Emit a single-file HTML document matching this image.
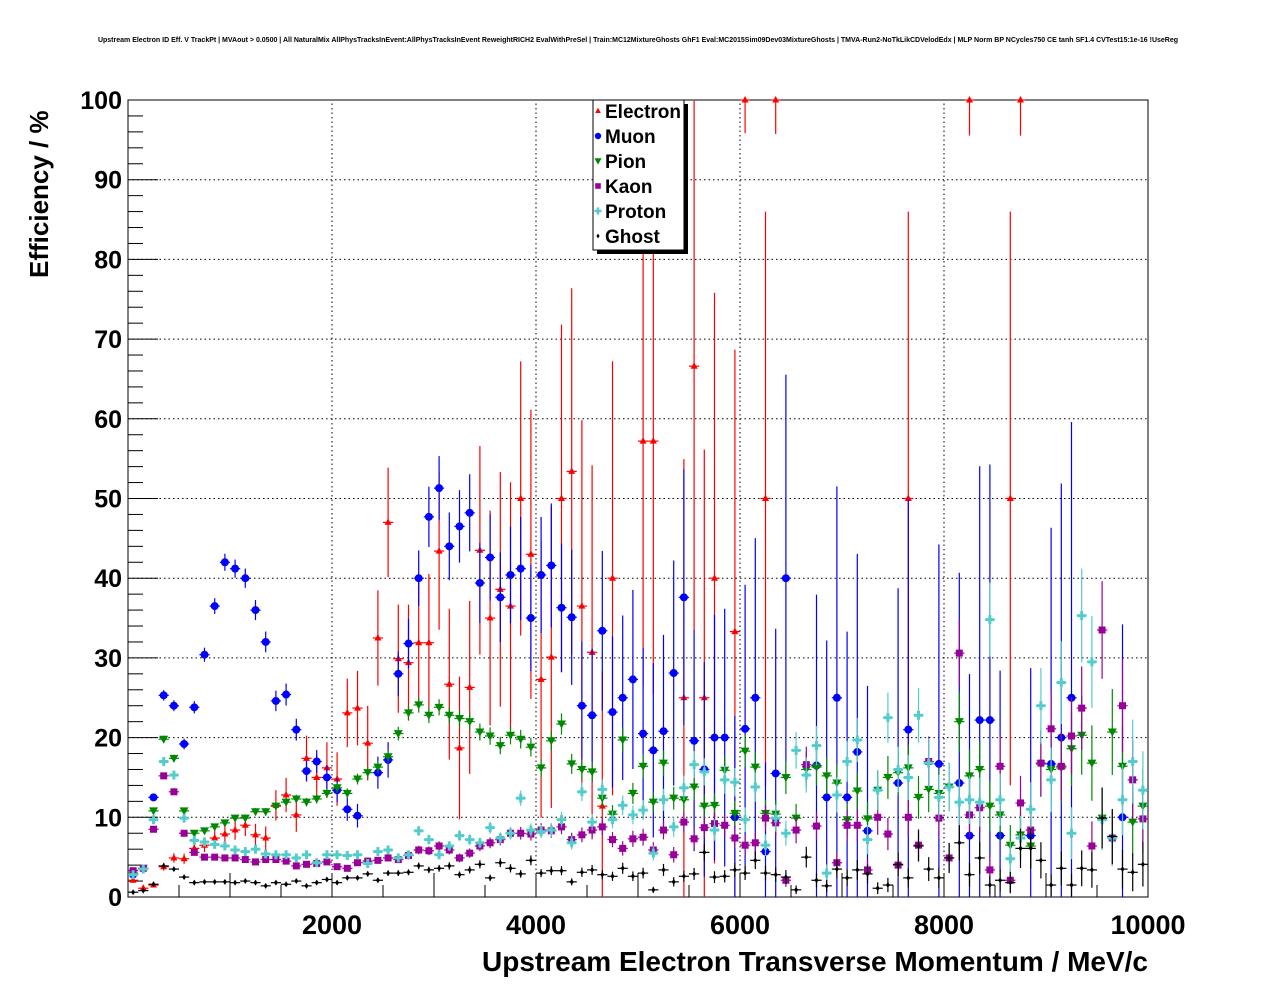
<!DOCTYPE html>
<html><head><meta charset="utf-8"><style>
body{margin:0;background:#fff;}
svg{display:block;font-family:"Liberation Sans",sans-serif;}
</style></head><body>
<svg id="c" width="1276" height="996">
<rect width="1276" height="996" fill="#fff"/>
<text x="638" y="42" font-size="7" font-weight="bold" text-anchor="middle">Upstream Electron ID Eff. V TrackPt | MVAout &gt; 0.0500 | All NaturalMix AllPhysTracksInEvent:AllPhysTracksInEvent ReweightRICH2 EvalWithPreSel | Train:MC12MixtureGhosts GhF1 Eval:MC2015Sim09Dev03MixtureGhosts | TMVA-Run2-NoTkLikCDVelodEdx | MLP Norm BP NCycles750 CE tanh SF1.4 CVTest15:1e-16 !UseReg</text>
<text x="1148" y="971" font-size="28" font-weight="bold" text-anchor="end" textLength="666" lengthAdjust="spacingAndGlyphs">Upstream Electron Transverse Momentum / MeV/c</text>
<text transform="translate(48,278) rotate(-90)" font-size="26" font-weight="bold">Efficiency / %</text>
<g id="grid"></g><g id="axes"></g><g id="marks"></g><g id="legend"></g>
</svg>
<script>
const xTicks=[2000,4000,6000,8000,10000];
const yTicks=[0,10,20,30,40,50,60,70,80,90,100];
const N=null;
const electron=[2.1,1.1,1.5,3.8,4.9,4.8,6.1,6.5,7.4,7.9,8.4,9,7.8,7.4,11.5,12.8,10.3,17.4,15,16.2,14.8,23.1,23.7,19.3,32.5,47,29.9,29.4,31.9,31.9,43.4,26.7,18.7,26.3,43.5,35,38.6,36.5,50,43,27.3,30.1,50,53.4,36.5,30.7,11.4,40,N,N,57.2,57.2,N,N,25,66.6,25,40,N,33.3,100,N,50,100,N,N,N,N,N,N,N,N,N,N,N,N,50,N,N,N,N,N,100,N,N,N,50,100,N,N,N,N,N,N,N,N,N,N,N,N];
const muon=[2.8,N,12.5,25.3,24,19.2,23.8,30.4,36.5,42,41.2,40,36,32,24.6,25.4,21,15.8,17,15,13.4,11,10.2,N,15.6,17.2,28,31.8,40,47.7,51.3,44,46.5,48.2,39.4,42.6,37.6,40.4,41.2,35,40.4,41.6,36.3,35.1,24,22.8,33.4,23.2,25,27.3,20.5,18.4,20.8,28.1,37.6,19.6,16,20,20,10,21.1,25,5.7,15.5,40,N,N,16.5,12.5,25,12.5,18.2,8.3,N,N,14.3,21,N,N,16.7,N,14.3,7.7,22.2,22.2,7.7,N,N,7.7,N,16.7,20,25,N,N,N,N,10,N,N];
const pion=[3,3.6,10.8,19.8,17.4,10.8,8,8.3,8.8,9.3,9.9,9.9,10.7,10.7,11.4,11.9,12.3,11.9,12.3,13,13.7,13,14.8,15.6,16.3,17.6,20.5,23.1,24.1,22.8,23.8,22.8,22.4,22,20.7,20.2,19,20.3,19.8,18.8,16.2,19.6,21.7,16.7,16,15.7,12.4,10.4,19.7,13,16.4,11.9,16.8,12.4,12.2,13.8,11.4,11.5,15.9,10.5,18.3,16.3,10.5,10.4,15,9.9,16,16.3,15.2,14.3,9.7,13.3,9.8,13.4,15,15.6,16.2,12.5,13.5,13,13.8,22,15.2,16,11.4,10.3,6.5,7.8,6.4,16.7,16,16.2,18.6,20.3,16.8,9.9,20.7,16.4,9.4,11.4];
const kaon=[3.3,3.6,8.5,15.2,13.2,8,5.6,5,5,4.9,4.9,4.7,4.4,4.7,4.7,4.5,3.9,4.1,4.2,4.4,3.8,3.6,4.3,4.5,4.6,4.9,4.7,5.2,5.9,5.8,6.4,5.9,4.9,5.5,6.4,6.8,7.2,8,8,7.9,8.4,8.3,8.8,7.2,7.8,8.4,8.8,7.2,6.1,7.3,7.5,5.9,8.4,5.3,9.4,7.3,8.7,9.2,9,7.4,6.5,6.8,9.9,9.3,2.1,8.4,16.6,8.9,N,4.3,9,9,3.4,10,7.9,4,10,6.5,17,9.9,4.9,30.6,10.3,11.2,3.4,16.4,2.1,11.8,8.4,16.8,21.1,16.4,20.2,23.7,6.4,33.5,7.4,24,14.7,9.8];
const proton=[2.8,3.5,9.7,17,15.3,9.9,7.1,6.9,6.6,6.4,5.9,5.7,6,5.4,5.3,5.3,4.9,5.3,4.3,5.3,5.3,5.2,5.3,4.2,5.7,5.9,4.9,5.3,8.3,7.2,5.3,6.4,7.7,7.2,6.8,8.7,7.4,8,12.4,8.4,8.2,8.4,9.7,6.8,13.2,9.4,13.5,9.7,11.5,10.3,10.9,5.5,12.2,8.8,13.7,16.6,15.7,8.4,14.7,14.4,9.7,13.8,6.5,9.9,8,18.4,15.3,19,3,12.8,17,19.7,7.2,13.4,22.5,16,15,22.8,16.8,12.5,13.8,11.9,12.2,11.9,34.8,12.2,4.8,7.4,11,24,14.7,26.9,8,35.3,29.5,9.7,7.4,12.2,17,13.4];
const ghost=[0.6,0.8,1.6,3.9,3.5,2.5,1.8,1.9,1.9,1.9,1.8,2,1.8,1.4,1.8,1.6,2,1.4,1.8,2.2,1.8,2.4,2.4,2.9,2.1,3,3,3.1,3.9,3.4,3.6,3.9,2.8,3.4,4.1,2.4,4.3,3.6,2.9,4.6,3,3.3,3.3,1.9,3.1,3.4,2.8,2.6,3.6,2.6,3,0.9,3.4,1.9,2.6,2.9,5.6,2.5,2.6,3.4,3,4.6,3,2.8,2.5,0.9,5,2.1,1.4,3.5,2.4,3.4,2.9,1.1,1.5,4.1,2.4,6.4,3.5,2.4,4.9,6.8,2.8,4.9,1.5,2.1,1.8,6.1,6.1,4.6,1.5,3.6,1.5,3.6,3.4,9.9,7.6,3.5,3.1,4.1];
const binWidth=100;
const X0=128,X1=1148,Y0=897,Y1=100;
const sx=v=>X0+(v/10000)*(X1-X0);
const sy=v=>Y0-(v/100)*(Y0-Y1);
const NS="http://www.w3.org/2000/svg";
function mk(tag,attrs,parent){const e=document.createElementNS(NS,tag);for(const k in attrs)e.setAttribute(k,attrs[k]);parent.appendChild(e);return e;}
const grid=document.getElementById('grid'),axes=document.getElementById('axes'),marks=document.getElementById('marks'),leg=document.getElementById('legend');
yTicks.forEach(t=>{if(t>0&&t<100){const l=mk('line',{x1:X0,x2:X1,y1:sy(t),y2:sy(t),stroke:'#000','stroke-dasharray':'1.5,3','stroke-width':1},grid);}});
xTicks.forEach(t=>{if(t<10000){const l=mk('line',{x1:sx(t),x2:sx(t),y1:Y0,y2:Y1,stroke:'#000','stroke-dasharray':'1.5,3','stroke-width':1},grid);}});
const frame=mk('rect',{x:X0,y:Y1,width:X1-X0,height:Y0-Y1,fill:'none',stroke:'#000','stroke-width':1},axes);

for(let v=0;v<=100;v+=2){const len=v%10===0?30:15;mk('line',{x1:X0,x2:X0+len,y1:sy(v),y2:sy(v),stroke:'#000'},axes);}
for(let v=500;v<=10000;v+=500){const len=v%1000===0?24:12;mk('line',{x1:sx(v),x2:sx(v),y1:Y0,y2:Y0-len,stroke:'#000'},axes);}
yTicks.forEach(t=>{const tx=mk('text',{x:X0-6,y:sy(t)+9,'font-size':25,'font-weight':'bold','text-anchor':'end'},axes);tx.textContent=t;
});
xTicks.forEach(t=>{const tx=mk('text',{x:sx(t),y:Y0+37,'font-size':27,'font-weight':'bold','text-anchor':'middle'},axes);tx.textContent=t;
});
const series=[
 {name:'Electron',data:electron,color:'#ff0000',shape:'tri',n0:2400,k:6.5},
 {name:'Muon',data:muon,color:'#0000ff',shape:'circ',n0:6500,k:8},
 {name:'Pion',data:pion,color:'#008800',shape:'tdown',n0:8600,k:19},
 {name:'Kaon',data:kaon,color:'#990099',shape:'sq',n0:8600,k:19},
 {name:'Proton',data:proton,color:'#55cccc',shape:'cross',n0:8600,k:19},
 {name:'Ghost',data:ghost,color:'#000000',shape:'dia',n0:9000,k:19}];
function marker(shape,x,y,c,g,s){s=s||1;
 if(shape==='tri')mk('polygon',{points:`${x},${y-4*s} ${x-3.5*s},${y+2.5*s} ${x+3.5*s},${y+2.5*s}`,fill:c},g);
 else if(shape==='tdown')mk('polygon',{points:`${x},${y+4.5*s} ${x-4.5*s},${y-3.5*s} ${x+4.5*s},${y-3.5*s}`,fill:c},g);
 else if(shape==='circ')mk('circle',{cx:x,cy:y,r:4*s,fill:c},g);
 else if(shape==='sq')mk('rect',{x:x-3.5*s,y:y-3.5*s,width:7*s,height:7*s,fill:c},g);
 else if(shape==='cross'){mk('rect',{x:x-4.5*s,y:y-1.5*s,width:9*s,height:3*s,fill:c},g);mk('rect',{x:x-1.5*s,y:y-4.5*s,width:3*s,height:9*s,fill:c},g);}
 else mk('polygon',{points:`${x},${y-3*s} ${x+2*s},${y} ${x},${y+3*s} ${x-2*s},${y}`,fill:c},g);
}
series.forEach(s=>{
 const g=mk('g',{},marks);
 s.data.forEach((v,i)=>{if(v===null)return;
  const xc=(i+0.5)*binWidth,x=sx(xc),y=sy(v);
  const n=s.n0*Math.exp(-i/s.k)+1.5;
  const e=Math.min(Math.sqrt(Math.max(v*(100-v),30)/n),36);
  const p=mk('g',{},g);
  mk('line',{x1:x,x2:x,y1:sy(Math.min(100,v+e)),y2:sy(Math.max(0,v-e)),stroke:s.color,'stroke-width':1.2},p);
  mk('line',{x1:sx(xc-binWidth/2),x2:sx(xc+binWidth/2),y1:y,y2:y,stroke:s.color,'stroke-width':1.2},p);
  marker(s.shape,x,y,s.color,p);
 });
});
mk('rect',{x:597,y:104,width:91,height:150,fill:'#000'},leg);
const lb=mk('rect',{x:593,y:100,width:91,height:150,fill:'#fff',stroke:'#000'},leg);

series.forEach((s,k)=>{const y=111+k*25;const g=mk('g',{},leg);
 marker(s.shape,598,y,s.color,g,0.8);const t=mk('text',{x:605,y:y+7,'font-size':19,'font-weight':'bold'},g);t.textContent=s.name;});
</script>
</body></html>
